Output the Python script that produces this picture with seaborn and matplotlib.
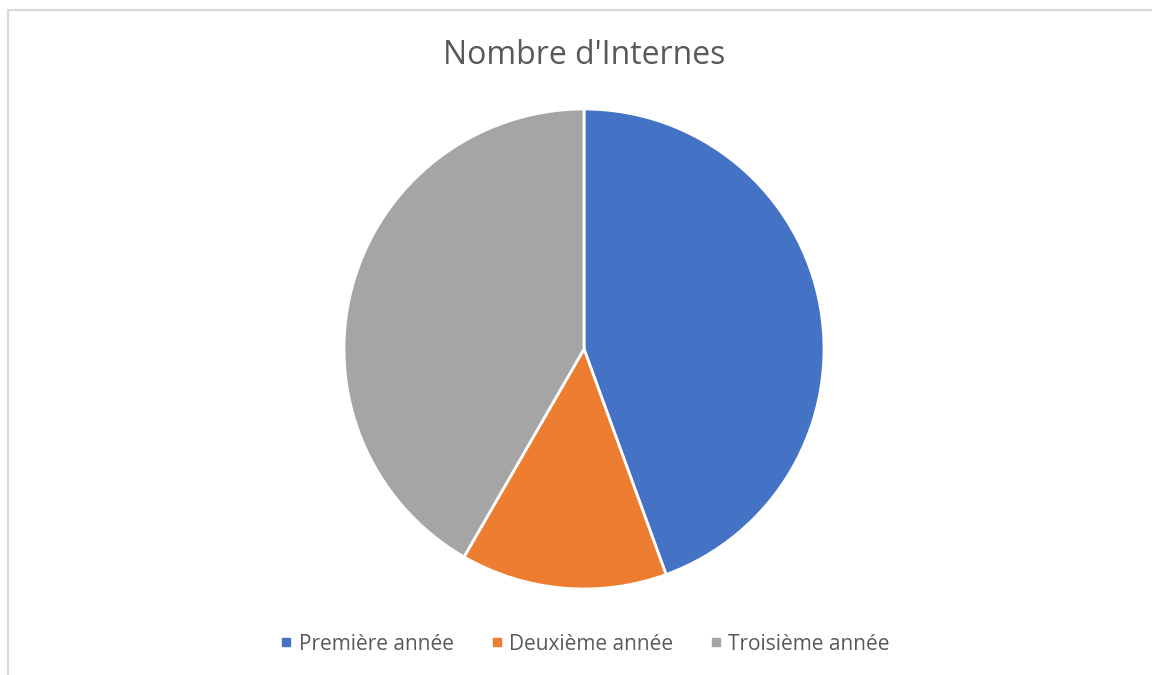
import matplotlib.pyplot as plt
import seaborn as sns
from matplotlib.lines import Line2D

plt.switch_backend('Agg')

# Data
categories = ["Première année", "Deuxième année", "Troisième année"]
counts = [16, 5, 15]
colors = ["#4472C4", "#ED7D31", "#A5A5A5"]
title = "Nombre d'Internes"

sns.set_theme(style="white")
plt.rcParams['font.family'] = ['Open Sans', 'DejaVu Sans']

W, H = 1152, 675
fig = plt.figure(figsize=(W / 100, H / 100), dpi=100)

# pie centred at (584, 349) px, radius 240 px
cx, cy, r = 584, 349, 240
ax = fig.add_axes([(cx - r) / W, (H - cy - r) / H, 2 * r / W, 2 * r / H])
wedges, _ = ax.pie(
    counts,
    colors=colors,
    startangle=90,
    counterclock=False,
    radius=1,
    wedgeprops=dict(edgecolor="white", linewidth=2),
)
ax.set_xlim(-1, 1)
ax.set_ylim(-1, 1)
ax.set_aspect('equal')
ax.axis('off')

fig.text(cx / W, 1 - 56 / H, title, ha='center', va='center',
         fontsize=23, color='#595959')

handles = [Line2D([], [], marker='s', linestyle='none', markersize=5.5,
                  markerfacecolor=c, markeredgecolor=c) for c in colors]
fig.legend(handles, categories, loc='center', bbox_to_anchor=(cx / W, 1 - 644 / H),
           ncol=3, frameon=False, fontsize=15, handletextpad=0.2,
           columnspacing=1.65, labelcolor='#595959', handlelength=0.8)

# chart area border (light grey, left and top)
x0, y0 = 8 / W, 1 - 9.5 / H
fig.add_artist(Line2D([x0, x0], [0, y0], color='#D9D9D9', linewidth=1.5))
fig.add_artist(Line2D([x0, 1], [y0, y0], color='#D9D9D9', linewidth=1.5))

fig.savefig("out.png", dpi=100, facecolor='white')
plt.close('all')
